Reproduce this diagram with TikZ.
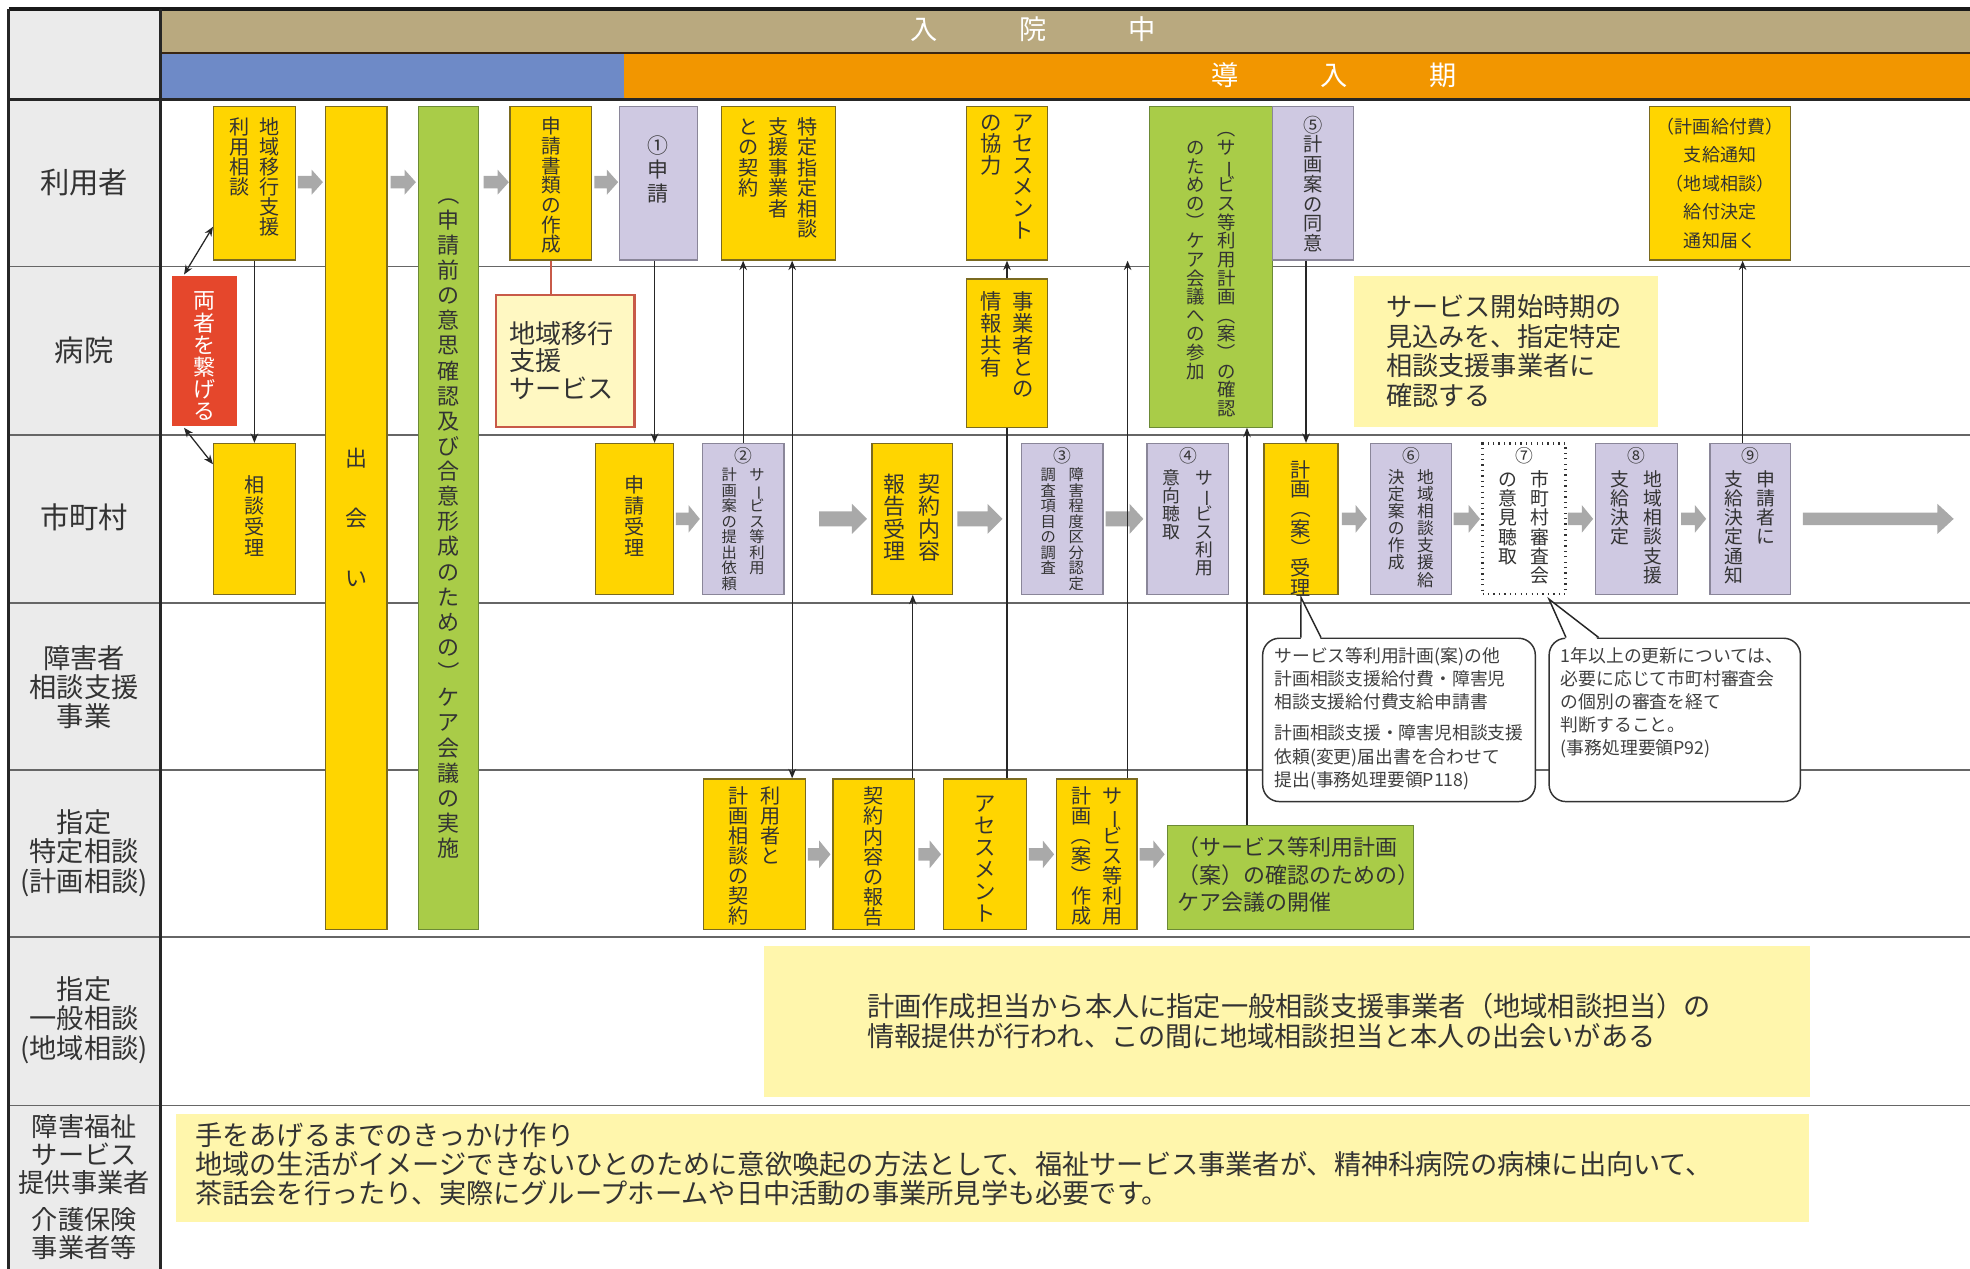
\documentclass[tikz,border=0pt]{standalone}
\usepackage{fontspec}
\setmainfont{Noto Sans CJK JP}
\usetikzlibrary{fit,calc,arrows.meta}
\definecolor{cLab}{HTML}{EBEBEB}
\definecolor{cTan}{HTML}{B9A97F}
\definecolor{cBlue}{HTML}{6E8AC7}
\definecolor{cOrg}{HTML}{F29600}
\definecolor{cYel}{HTML}{FFD500}
\definecolor{cYelD}{HTML}{7A6A20}
\definecolor{cPur}{HTML}{CFC9E2}
\definecolor{cPurD}{HTML}{8A8699}
\definecolor{cGrn}{HTML}{A9CC48}
\definecolor{cGrnD}{HTML}{6C8A36}
\definecolor{cRed}{HTML}{E5472C}
\definecolor{cNote}{HTML}{FFF6AC}
\definecolor{cSvc}{HTML}{FFF8C2}
\definecolor{cSvcD}{HTML}{C85A48}
\definecolor{cArr}{HTML}{A9A9A9}
\definecolor{cTxt}{HTML}{333333}
% vertical-writing helpers
\newcommand{\VL}{\rotatebox[origin=c]{-90}{ー}}
\newcommand{\VPL}{\rotatebox[origin=c]{-90}{（}}
\newcommand{\VPR}{\rotatebox[origin=c]{-90}{）}}
\newcommand{\VSP}{}
\def\vstend{VSTEND}
\def\vst#1{\vstaux#1\vstend}
\def\vstaux#1{\ifx#1\vstend\else\hbox to 1em{\hss#1\hss}\expandafter\vstaux\fi}
\newcommand{\vone}[3]{\vtop{\fontsize{#1}{#2}\selectfont\baselineskip=#2pt\lineskiplimit=-30pt\lineskip=0pt\relax\vst{#3}}}
\newcommand{\vtwo}[5]{\hbox{\vone{#1}{#2}{#5}\hspace{#3}\vone{#1}{#2}{#4}}}
\newcommand{\vthree}[6]{\hbox{\vone{#1}{#2}{#6}\hspace{#3}\vone{#1}{#2}{#5}\hspace{#3}\vone{#1}{#2}{#4}}}
\newcommand{\mkbox}[6]{\node[#1, fit={(#3,#4) (#5,#6)}] (#2) {};}
\newcommand{\barw}[6]{\fill[cArr] (#1,{#3-#4}) -- ({#2-#6},{#3-#4}) -- ({#2-#6},{#3-#5}) -- (#2,#3) -- ({#2-#6},{#3+#5}) -- ({#2-#6},{#3+#4}) -- (#1,{#3+#4}) -- cycle;}
\tikzset{
  bxs/.style={inner sep=0pt, line width=0.6pt},
  ybox/.style={bxs, fill=cYel, draw=cYelD},
  pbox/.style={bxs, fill=cPur, draw=cPurD},
  gbox/.style={bxs, fill=cGrn, draw=cGrnD},
  rbox/.style={bxs, fill=cRed},
  nbox/.style={bxs, fill=cNote},
  sbox/.style={bxs, fill=cSvc, draw=cSvcD, line width=1.1pt},
  dbox/.style={bxs, fill=white, draw=black!80, dotted, line width=1.1pt},
  cbox/.style={bxs, fill=white, draw=black!80, line width=0.7pt, rounded corners=8pt},
  lk/.style={draw=black!85, line width=0.6pt},
  ar/.style={lk, -{Stealth[length=4.5pt,width=3.6pt]}},
  dar/.style={lk, {Stealth[length=4.5pt,width=3.6pt]}-{Stealth[length=4.5pt,width=3.6pt]}},
  rowline/.style={draw=black!60, line width=0.8pt},
  lbl/.style={font=\fontsize{13}{14}\selectfont, text=cTxt, align=center, inner sep=0pt},
  vt/.style={anchor=north, inner sep=0pt, text=cTxt},
  ht/.style={inner sep=0pt, text=cTxt, align=left},
}
\begin{document}
\begin{tikzpicture}[x=0.6pt,y=-0.6pt]
\useasboundingbox (0,0) rectangle (1568,1010);
\fill[white] (0,0) rectangle (1568,1010);
% label column and header
\fill[cLab] (7,7) rectangle (128,1010);
\fill[cTan] (128,7) rectangle (1568,42);
\fill[cBlue] (128,42) rectangle (497,79);
\fill[cOrg] (497,42) rectangle (1568,79);
\draw[black!70!brown, line width=0.8pt] (128,42) -- (1568,42);
\node[text=white, font=\fontsize{13}{14}\selectfont, inner sep=0pt] (hdr1) at (822,23) {入\hspace{39pt}院\hspace{39pt}中};
\node[text=white, font=\fontsize{13}{14}\selectfont, inner sep=0pt] (hdr2) at (1062,60) {導\hspace{39pt}入\hspace{39pt}期};
% row lines
\foreach \yy in {212,346,480,613,746,880} {\draw[rowline] (7,\yy) -- (1568,\yy);}
\draw[black!85, line width=1.4pt] (7,79) -- (1568,79);
\draw[black!90, line width=2pt] (7,7) -- (1568,7);
\draw[black!85, line width=1.4pt] (7,7) -- (7,1010);
\draw[black!85, line width=1.4pt] (128,7) -- (128,1010);
% row labels
\node[lbl, font=\fontsize{14}{15}\selectfont] (l1) at (67,145) {利用者};
\node[lbl, font=\fontsize{14}{15}\selectfont] (l2) at (67,279) {病院};
\node[lbl, font=\fontsize{14}{15}\selectfont] (l3) at (67,412) {市町村};
\node[lbl] (l4) at (67,547) {障害者\\相談支援\\事業};
\node[lbl] (l5) at (67,679) {指定\\特定相談\\(計画相談)};
\node[lbl] (l6) at (67,812) {指定\\一般相談\\(地域相談)};
\node[lbl, font=\fontsize{12.5}{13.3}\selectfont] (l7) at (67,919) {障害福祉\\サービス\\提供事業者};
\node[lbl, font=\fontsize{12.5}{13.3}\selectfont] (l8) at (67,982) {介護保険\\事業者等};
% ---------- boxes row 1
\mkbox{ybox}{b1}{170}{85}{235}{207}
\node[vt] at (202.5,93) {\vtwo{9.6}{9.6}{5pt}{地域移行支援}{利用相談}};
\mkbox{ybox}{deai}{259}{85}{308}{740}
\node[vt] at (283.5,356) {\vone{10.5}{28.8}{出会い}};
\mkbox{gbox}{care1}{333}{85}{381}{740}
\node[vt] at (357,146) {\vone{10.5}{12}{\VPL 申請前の意思確認及び合意形成のための\VPR ケア会議の実施}};
\mkbox{ybox}{shorui}{406}{85}{471}{207}
\node[vt] at (438.5,93) {\vone{9.4}{9.4}{申請書類の作成}};
\mkbox{pbox}{shinsei1}{493}{85}{555}{207}
\node[vt] at (524,108) {\vone{10}{11.5}{①申請}};
\mkbox{ybox}{tokutei}{574}{85}{665}{207}
\node[vt] at (619.5,93) {\vthree{9.6}{9.8}{4.5pt}{特定指定相談}{支援事業者}{との契約}};
\mkbox{ybox}{kyouryoku}{769}{85}{834}{207}
\node[vt] at (801.5,91) {\vtwo{10.2}{10.3}{5pt}{アセスメント}{の協力}};
\mkbox{gbox}{care2}{915}{85}{1013}{340}
\node[vt] at (964,95) {\vtwo{8.8}{8.9}{6pt}{\VPL サ\VL ビス等利用計画\VPL 案\VPR の確認}{\VSP のための\VPR ケア会議への参加}};
\mkbox{pbox}{doui}{1013}{85}{1077}{207}
\node[vt] at (1045,92) {\vone{9.2}{9.4}{⑤計画案の同意}};
\mkbox{ybox}{kyufu}{1313}{85}{1425}{207}
\node[ht, align=center, font=\fontsize{8.6}{13.6}\selectfont] at (1369,146) {（計画給付費）\\支給通知\\（地域相談）\\給付決定\\通知届く};
% ---------- row 2
\mkbox{rbox}{ryosha}{137}{220}{189}{339}
\node[vt, text=white] at (163,232) {\vone{10.5}{10.6}{両者を繋げる}};
\mkbox{sbox}{service}{395}{235}{505}{340}
\node[ht, anchor=west, font=\fontsize{12.5}{13}\selectfont] at (405,287) {地域移行\\支援\\サービス};
\mkbox{ybox}{jouhou}{769}{222}{834}{340}
\node[vt] at (801.5,232) {\vtwo{10.2}{10.4}{5pt}{事業者との}{情報共有}};
\mkbox{nbox}{note1}{1078}{220}{1320}{340}
\node[ht, anchor=north west, font=\fontsize{12.5}{14.2}\selectfont] at (1103,234) {サービス開始時期の\\見込みを、指定特定\\相談支援事業者に\\確認する};
% ---------- row 3
\mkbox{ybox}{soudan}{170}{353}{235}{473}
\node[vt] at (202.5,378) {\vone{9.6}{10}{相談受理}};
\mkbox{ybox}{juri}{474}{353}{536}{473}
\node[vt] at (505,378) {\vone{9.6}{10}{申請受理}};
\mkbox{pbox}{irai}{559}{353}{624}{473}
\node[vt] at (591.5,356) {\fontsize{8.5}{9}\selectfont ②};
\node[vt] at (591.5,372) {\vtwo{7.3}{7.4}{6pt}{サ\VL ビス等利用}{計画案の提出依頼}};
\mkbox{ybox}{juri2}{694}{353}{758}{473}
\node[vt] at (726,377) {\vtwo{10.5}{10.7}{6pt}{契約内容}{報告受理}};
\mkbox{pbox}{chousa}{813}{353}{878}{473}
\node[vt] at (845.5,356) {\fontsize{8.5}{9}\selectfont ③};
\node[vt] at (845.5,372) {\vtwo{7.3}{7.4}{6pt}{障害程度区分認定}{調査項目の調査}};
\mkbox{pbox}{ikou}{913}{353}{978}{473}
\node[vt] at (945.5,356) {\fontsize{8.5}{9}\selectfont ④};
\node[vt] at (945.5,373) {\vtwo{8.5}{8.6}{7pt}{サ\VL ビス利用}{意向聴取}};
\mkbox{ybox}{keikakujuri}{1006}{353}{1065}{473}
\node[vt] at (1035.5,366) {\vone{9.6}{9.4}{計画\VPL 案\VPR 受理}};
\mkbox{pbox}{kettei}{1091}{353}{1155}{473}
\node[vt] at (1123,356) {\fontsize{8.5}{9}\selectfont ⑥};
\node[vt] at (1123,373) {\vtwo{8}{8.2}{6pt}{地域相談支援給}{決定案の作成}};
\mkbox{dbox}{shinsakai}{1180}{353}{1246}{473}
\node[vt] at (1213,356) {\fontsize{8.5}{9}\selectfont ⑦};
\node[vt] at (1213,374) {\vtwo{9}{9.2}{6.5pt}{市町村審査会}{の意見聴取}};
\mkbox{pbox}{shikyu}{1270}{353}{1335}{473}
\node[vt] at (1302.5,356) {\fontsize{8.5}{9}\selectfont ⑧};
\node[vt] at (1302.5,374) {\vtwo{9}{9.2}{6.5pt}{地域相談支援}{支給決定}};
\mkbox{pbox}{tsuuchi}{1361}{353}{1425}{473}
\node[vt] at (1393,356) {\fontsize{8.5}{9}\selectfont ⑨};
\node[vt] at (1393,374) {\vtwo{9}{9.2}{6.5pt}{申請者に}{支給決定通知}};
% ---------- row 4 callouts
\mkbox{cbox}{call1}{1005}{508}{1222}{638}
\mkbox{cbox}{call2}{1233}{508}{1433}{638}
\node[ht, anchor=north west, text=black!75, font=\fontsize{8.5}{11}\selectfont] at (1014,515) {サービス等利用計画(案)の他\\計画相談支援給付費・障害児\\相談支援給付費支給申請書\\[4pt]計画相談支援・障害児相談支援\\依頼(変更)届出書を合わせて\\提出(事務処理要領P118)};
\node[ht, anchor=north west, text=black!75, font=\fontsize{8.5}{11}\selectfont] at (1242,515) {1年以上の更新については、\\必要に応じて市町村審査会\\の個別の審査を経て\\判断すること。\\(事務処理要領P92)};
% ---------- row 5
\mkbox{ybox}{keiyaku}{560}{620}{641}{740}
\node[vt] at (600.5,626) {\vtwo{9.6}{9.5}{6pt}{利用者と}{計画相談の契約}};
\mkbox{ybox}{houkoku}{663}{620}{728}{740}
\node[vt] at (695.5,626) {\vone{9.6}{9.6}{契約内容の報告}};
\mkbox{ybox}{assess}{751}{620}{817}{740}
\node[vt] at (784,633) {\vone{10.2}{10.5}{アセスメント}};
\mkbox{ybox}{sakusei}{841}{620}{905}{740}
\node[vt] at (873,626) {\vtwo{9.6}{9.5}{5pt}{サ\VL ビス等利用}{計画\VPL 案\VPR 作成}};
\mkbox{gbox}{kaisai}{929}{657}{1125}{740}
\node[ht, anchor=north west, font=\fontsize{10.5}{13}\selectfont] at (937,666) {（サービス等利用計画\\（案）の確認のための）\\ケア会議の開催};
% ---------- row 6 / 7
\mkbox{nbox}{kouhou}{608}{753}{1441}{873}
\node[ht, anchor=north west, font=\fontsize{13}{14.4}\selectfont] at (690,790) {計画作成担当から本人に指定一般相談支援事業者（地域相談担当）の\\情報提供が行われ、この間に地域相談担当と本人の出会いがある};
\mkbox{nbox}{kikkake}{140}{887}{1440}{973}
\node[ht, anchor=north west, font=\fontsize{13}{14}\selectfont] at (155,893) {手をあげるまでのきっかけ作り\\地域の生活がイメージできないひとのために意欲喚起の方法として、福祉サービス事業者が、精神科病院の病棟に出向いて、\\茶話会を行ったり、実際にグループホームや日中活動の事業所見学も必要です。};
% ---------- gray block arrows
\barw{237}{257}{145}{5}{10}{9}
\barw{311}{331}{145}{5}{10}{9}
\barw{385}{405}{145}{5}{10}{9}
\barw{473}{492}{145}{5}{10}{9}
\barw{538}{557}{413}{5}{11}{9}
\barw{652}{690}{413}{6}{12}{12}
\barw{762}{798}{413}{6}{12}{12}
\barw{880}{910}{413}{6}{12}{11}
\barw{1068}{1088}{413}{5}{11}{9}
\barw{1157}{1178}{413}{5}{11}{9}
\barw{1248}{1268}{413}{5}{11}{9}
\barw{1338}{1358}{413}{5}{11}{9}
\barw{1435}{1555}{413}{5}{12}{13}
\barw{643}{661}{680}{5}{11}{9}
\barw{731}{749}{680}{5}{11}{9}
\barw{819}{839}{680}{5}{11}{9}
\barw{907}{927}{680}{5}{11}{9}
% ---------- connectors
\draw[dar] ($(ryosha.north west)+(10,-1)$) -- ($(b1.south west)+(0,-27)$);
\draw[dar] ($(ryosha.south west)+(10,1)$) -- ($(soudan.north west)+(0,17)$);
\draw[ar] (b1.south) -- (soudan.north);
\draw[cSvcD, line width=1pt] (shorui.south) -- (shorui.south |- service.north);
\coordinate (s1) at ($(shinsei1.south)+(-3,0)$);
\draw[ar] (s1) -- (s1 |- juri.north);
\draw[ar] (irai.north) -- (irai.north |- tokutei.south);
\coordinate (k1) at ($(tokutei.south west)+(57,0)$);
\draw[dar] (k1) -- (k1 |- keiyaku.north);
\coordinate (h1) at ($(houkoku.north east)+(-2,0)$);
\draw[ar] (h1) -- (h1 |- juri2.south);
\draw[lk] (assess.north -| jouhou.south) -- (jouhou.south);
\draw[ar] (jouhou.north) -- (kyouryoku.south);
\coordinate (s9) at ($(sakusei.north east)+(-8,0)$);
\draw[ar] (s9) -- (s9 |- tokutei.south);
\coordinate (k10) at ($(kaisai.north west)+(64,0)$);
\draw[ar] (k10) -- (k10 |- care2.south);
\coordinate (d5) at ($(keikakujuri.north)+(4,0)$);
\draw[ar] (d5 |- doui.south) -- (d5);
\coordinate (t9) at ($(tsuuchi.north)+(-6,0)$);
\draw[ar] (t9) -- (t9 |- kyufu.south);
% callout pointers
\coordinate (p1) at ($(keikakujuri.south)+(0,2)$);
\fill[white] ($(call1.north west)+(31,2)$) -- (p1) -- ($(call1.north west)+(47,2)$) -- cycle;
\draw[lk, line width=0.7pt] ($(call1.north west)+(31,0)$) -- (p1) -- ($(call1.north west)+(47,0)$);
\coordinate (p2) at ($(shinsakai.south east)+(-14,3)$);
\fill[white] ($(call2.north west)+(14,2)$) -- (p2) -- ($(call2.north west)+(40,2)$) -- cycle;
\draw[lk, line width=0.7pt] ($(call2.north west)+(14,0)$) -- (p2) -- ($(call2.north west)+(40,0)$);
\end{tikzpicture}
\end{document}
